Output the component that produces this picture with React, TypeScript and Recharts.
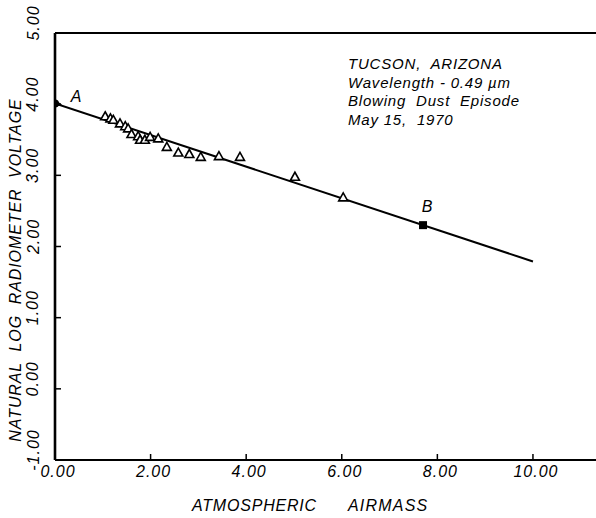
import React from 'react';
import { ComposedChart, Line, Scatter, XAxis, YAxis } from 'recharts';

const xTicks = [0, 2, 4, 6, 8, 10];
const yTicks = [-1, 0, 1, 2, 3, 4, 5];
const topTicks = [2, 4, 6, 8, 10];
const rightTicks = [0, 1, 2, 3, 4];

// fitted line end points
const fitLine = [
  { x: 0, y: 4.01 },
  { x: 10, y: 1.79 },
];

// open triangles (observations)
const observed = [
  { x: 1.05, y: 3.83 },
  { x: 1.16, y: 3.8 },
  { x: 1.22, y: 3.78 },
  { x: 1.36, y: 3.73 },
  { x: 1.47, y: 3.69 },
  { x: 1.53, y: 3.66 },
  { x: 1.6, y: 3.58 },
  { x: 1.74, y: 3.55 },
  { x: 1.78, y: 3.5 },
  { x: 1.88, y: 3.5 },
  { x: 1.99, y: 3.54 },
  { x: 2.16, y: 3.52 },
  { x: 2.34, y: 3.4 },
  { x: 2.58, y: 3.32 },
  { x: 2.81, y: 3.3 },
  { x: 3.05, y: 3.26 },
  { x: 3.43, y: 3.27 },
  { x: 3.87, y: 3.26 },
  { x: 5.02, y: 2.98 },
  { x: 6.03, y: 2.69 },
];

const pointA = [{ x: 0, y: 4.01, name: 'A' }];
const pointB = [{ x: 7.7, y: 2.3, name: 'B' }];

const notes = ['TUCSON,  ARIZONA', 'Wavelength - 0.49 \u00b5m', 'Blowing  Dust  Episode', 'May 15,  1970'];

const FONT = '"Liberation Sans", Arial, sans-serif';
const X_MAX = 11.34;

const OpenTriangle = (props: any) => {
  const { cx, cy } = props;
  return (
    <polygon
      points={`${cx},${cy - 4.5} ${cx + 4.5},${cy + 3.5} ${cx - 4.5},${cy + 3.5}`}
      fill="#fff"
      stroke="#000"
      strokeWidth={1.6}
    />
  );
};

const MarkA = (props: any) => {
  const { cx, cy, payload } = props;
  return (
    <g>
      <polygon points={`${cx - 2},${cy - 5} ${cx + 7},${cy + 1} ${cx - 2},${cy + 5}`} fill="#000" />
      <circle cx={cx} cy={cy} r={4} fill="#000" />
      <text x={cx + 21} y={cy - 7} textAnchor="middle" dominantBaseline="central" fontFamily={FONT} fontStyle="italic" fontSize={16}>
        {payload.name}
      </text>
    </g>
  );
};

const MarkB = (props: any) => {
  const { cx, cy, payload } = props;
  return (
    <g>
      <rect x={cx - 4} y={cy - 4} width={8} height={8} fill="#000" />
      <text x={cx + 4} y={cy - 19} textAnchor="middle" dominantBaseline="central" fontFamily={FONT} fontStyle="italic" fontSize={16}>
        {payload.name}
      </text>
    </g>
  );
};

const XTick = (props: any) => {
  const { x, payload } = props;
  return (
    <text x={x + 3} y={471} textAnchor="middle" dominantBaseline="central" fontFamily={FONT} fontStyle="italic" fontSize={16} letterSpacing={1}>
      {payload.value.toFixed(2)}
    </text>
  );
};

const YTick = (props: any) => {
  const { y, payload } = props;
  const ty = y - 10;
  return (
    <text x={33} y={ty} transform={`rotate(-90, 33, ${ty})`} textAnchor="middle" dominantBaseline="central" fontFamily={FONT} fontStyle="italic" fontSize={16} letterSpacing={1}>
      {payload.value.toFixed(2)}
    </text>
  );
};

const textStyle: React.CSSProperties = {
  position: 'absolute',
  fontFamily: FONT,
  fontStyle: 'italic',
  color: '#000',
  whiteSpace: 'pre',
};

export default function App() {
  return (
    <div style={{ position: 'absolute', left: 0, top: 0, width: 596, height: 518, overflow: 'hidden', background: '#fff' }}>
      <ComposedChart width={600} height={518} margin={{ top: 33, right: 3, bottom: 58, left: 55 }}>
        <XAxis
          dataKey="x"
          type="number"
          domain={[0, X_MAX]}
          ticks={xTicks}
          allowDataOverflow
          mirror
          tickSize={6}
          tickLine={{ stroke: '#000', strokeWidth: 1.5 }}
          axisLine={{ stroke: '#000', strokeWidth: 2.2 }}
          tick={(p: any) => <XTick {...p} />}
        />
        <XAxis
          xAxisId="top"
          orientation="top"
          dataKey="x"
          type="number"
          domain={[0, X_MAX]}
          ticks={topTicks}
          allowDataOverflow
          mirror
          tick={false}
          tickSize={5}
          tickLine={{ stroke: '#000', strokeWidth: 1.5 }}
          axisLine={{ stroke: '#000', strokeWidth: 2 }}
        />
        <YAxis
          dataKey="y"
          type="number"
          domain={[-1, 5]}
          ticks={yTicks}
          allowDataOverflow
          mirror
          tickSize={6}
          tickLine={{ stroke: '#000', strokeWidth: 1.5 }}
          axisLine={{ stroke: '#000', strokeWidth: 2.6 }}
          tick={(p: any) => <YTick {...p} />}
        />
        <YAxis
          yAxisId="right"
          orientation="right"
          dataKey="y"
          type="number"
          domain={[-1, 5]}
          ticks={rightTicks}
          allowDataOverflow
          mirror
          tick={false}
          tickSize={6}
          tickLine={{ stroke: '#000', strokeWidth: 1.8 }}
          axisLine={false}
        />
        <Line data={fitLine} dataKey="y" stroke="#000" strokeWidth={2} dot={false} isAnimationActive={false} />
        <Scatter data={observed} dataKey="y" shape={OpenTriangle} isAnimationActive={false} />
        <Scatter data={pointA} dataKey="y" shape={MarkA} isAnimationActive={false} />
        <Scatter data={pointB} dataKey="y" shape={MarkB} isAnimationActive={false} />
      </ComposedChart>

      <div style={{ ...textStyle, left: 348, top: 55, fontSize: 15, lineHeight: '18.5px', letterSpacing: 0.8 }}>
        {notes.map((n) => (
          <div key={n}>{n}</div>
        ))}
      </div>

      <div style={{ ...textStyle, left: 192, top: 497, fontSize: 16, letterSpacing: 0.8 }}>ATMOSPHERIC</div>
      <div style={{ ...textStyle, left: 348, top: 497, fontSize: 16, letterSpacing: 1.2 }}>AIRMASS</div>

      <div
        style={{
          ...textStyle,
          left: 16,
          top: 270,
          fontSize: 16,
          letterSpacing: 0.9,
          transform: 'translate(-50%, -50%) rotate(-90deg)',
        }}
      >
        {'NATURAL  LOG  RADIOMETER  VOLTAGE'}
      </div>
    </div>
  );
}
